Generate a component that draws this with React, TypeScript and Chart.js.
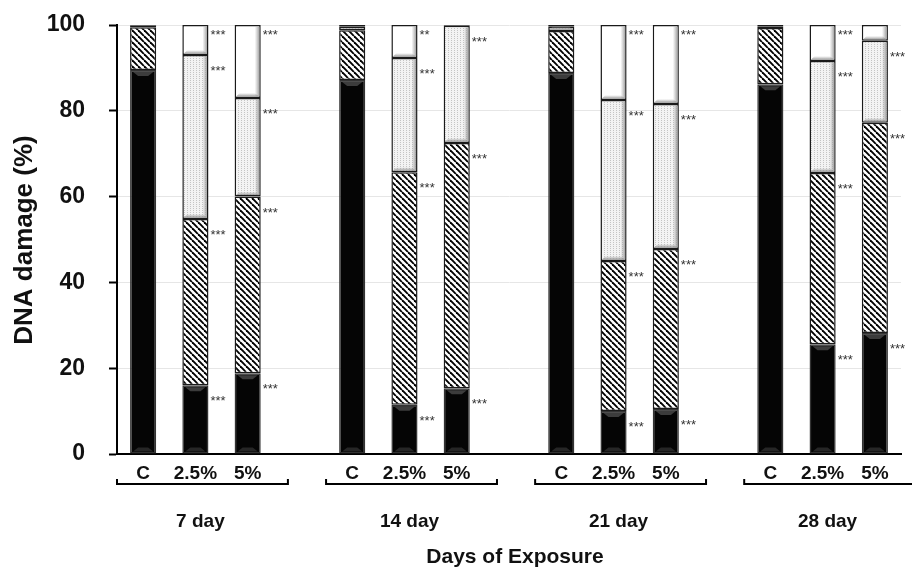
import React, { useEffect, useRef } from 'react';
import { Chart, registerables } from 'chart.js';

Chart.register(...registerables);

// ---- data ----
const categories = ['C', '2.5%', '5%', '', 'C', '2.5%', '5%', '', 'C', '2.5%', '5%', '', 'C', '2.5%', '5%'];
const groupLabels = ['7 day', '14 day', '21 day', '28 day'];
const groupStartIndex = [0, 4, 8, 12];
const xTitle = 'Days of Exposure';
const yTitle = 'DNA damage (%)';
const yMin = 0;
const yMax = 100;
const yStep = 20;

const blackSeries = [89.5, 16, 18.8, null, 87.2, 11.5, 15.3, null, 88.8, 10, 10.5, null, 86.2, 25.6, 28.2];
const hatchedSeries = [10, 38.8, 41.2, null, 11.6, 54.2, 57.2, null, 9.8, 35, 37.3, null, 13.1, 39.9, 49];
const dottedSeries = [0.3, 38.2, 23, null, 0.8, 26.6, 27.3, null, 1, 37.5, 33.8, null, 0.4, 26.1, 19.1];
const whiteSeries = [0.2, 7, 17, null, 0.4, 7.7, 0.2, null, 0.4, 17.5, 18.4, null, 0.3, 8.4, 3.7];

const blackStars = ['', '***', '***', '', '', '***', '***', '', '', '***', '***', '', '', '***', '***'];
const hatchedStars = ['', '***', '***', '', '', '***', '***', '', '', '***', '***', '', '', '***', '***'];
const dottedStars = ['', '***', '***', '', '', '***', '***', '', '', '***', '***', '', '', '***', '***'];
const whiteStars = ['', '***', '***', '', '', '**', '', '', '', '***', '***', '', '', '***', ''];

const FONT = "'Liberation Sans', Arial, Helvetica, sans-serif";

function makeHatch(): CanvasPattern | string {
  const c = document.createElement('canvas');
  const s = 6;
  c.width = s;
  c.height = s;
  const g = c.getContext('2d');
  if (!g) return '#888';
  g.fillStyle = '#ffffff';
  g.fillRect(0, 0, s, s);
  g.strokeStyle = '#000000';
  g.lineWidth = 1.9;
  for (let k = -1; k <= 1; k++) {
    g.beginPath();
    g.moveTo(k * s, 0);
    g.lineTo(k * s + s, s);
    g.stroke();
  }
  const p = g.createPattern(c, 'repeat');
  return p || '#888';
}

function makeDots(): CanvasPattern | string {
  const c = document.createElement('canvas');
  c.width = 3;
  c.height = 2;
  const g = c.getContext('2d');
  if (!g) return '#eee';
  g.fillStyle = '#f3f3f3';
  g.fillRect(0, 0, 3, 2);
  g.fillStyle = '#c4c4c4';
  g.fillRect(1, 0, 1, 1);
  const p = g.createPattern(c, 'repeat');
  return p || '#eee';
}

const starSets = [blackStars, hatchedStars, dottedStars, whiteStars];

const decorPlugin = {
  id: 'decor',
  afterDatasetsDraw(chart: any) {
    const ctx: CanvasRenderingContext2D = chart.ctx;
    // bevel effects
    chart.data.datasets.forEach((_ds: any, di: number) => {
      const meta = chart.getDatasetMeta(di);
      meta.data.forEach((el: any, j: number) => {
        const v = chart.data.datasets[di].data[j];
        if (v == null) return;
        const { x, y, base, width } = el.getProps(['x', 'y', 'base', 'width'], true);
        const l = x - width / 2;
        const r = x + width / 2;
        const h = base - y;
        if (h < 4) return;
        ctx.save();
        if (di === 0) {
          ctx.fillStyle = '#3c3c3c';
          ctx.beginPath();
          ctx.moveTo(l + 3, y + 2);
          ctx.lineTo(r - 3, y + 2);
          ctx.lineTo(r - 8, y + 6);
          ctx.lineTo(l + 8, y + 6);
          ctx.closePath();
          ctx.fill();
          ctx.fillStyle = '#262626';
          ctx.beginPath();
          ctx.moveTo(l + 8, base - 6);
          ctx.lineTo(r - 8, base - 6);
          ctx.lineTo(r - 3, base - 2);
          ctx.lineTo(l + 3, base - 2);
          ctx.closePath();
          ctx.fill();
        } else if (di === 2 || di === 3) {
          const gr = ctx.createLinearGradient(r - 6, 0, r - 1.5, 0);
          gr.addColorStop(0, 'rgba(160,160,160,0)');
          gr.addColorStop(1, 'rgba(150,150,150,0.85)');
          ctx.fillStyle = gr;
          ctx.fillRect(r - 6, y + 1.5, 4.5, h - 3);
          const gb = ctx.createLinearGradient(0, base - 5, 0, base - 1.5);
          gb.addColorStop(0, 'rgba(160,160,160,0)');
          gb.addColorStop(1, 'rgba(140,140,140,0.85)');
          ctx.fillStyle = gb;
          ctx.beginPath();
          ctx.moveTo(l + 1.5, base - 1.5);
          ctx.lineTo(r - 1.5, base - 1.5);
          ctx.lineTo(r - 6, base - 5);
          ctx.lineTo(l + 5, base - 5);
          ctx.closePath();
          ctx.fill();
        }
        ctx.restore();
      });
    });

    // significance stars
    ctx.save();
    ctx.fillStyle = '#333';
    ctx.font = `13px ${FONT}`;
    ctx.textAlign = 'left';
    ctx.textBaseline = 'alphabetic';
    starSets.forEach((set, di) => {
      const meta = chart.getDatasetMeta(di);
      set.forEach((s, j) => {
        if (!s) return;
        const el = meta.data[j];
        if (!el) return;
        const { x, y, width } = el.getProps(['x', 'y', 'width'], true);
        const off = di === 3 ? 6 : 12;
        ctx.fillText(s, x + width / 2 + 2, y + off + 8);
      });
    });
    ctx.restore();

    // brackets, group labels, titles
    const xs = chart.scales.x;
    const ca = chart.chartArea;
    const slot = xs.getPixelForValue(1) - xs.getPixelForValue(0);
    ctx.save();
    ctx.strokeStyle = '#000';
    ctx.lineWidth = 2;
    ctx.fillStyle = '#111';
    groupStartIndex.forEach((gi, k) => {
      const left = xs.getPixelForValue(gi) - 0.5 * slot;
      const right = left + 3.27 * slot;
      const by = ca.bottom + 30;
      ctx.beginPath();
      ctx.moveTo(left, by - 5);
      ctx.lineTo(left, by);
      ctx.lineTo(right, by);
      ctx.lineTo(right, by - 5);
      ctx.stroke();
      ctx.font = `bold 19px ${FONT}`;
      ctx.textAlign = 'center';
      ctx.textBaseline = 'middle';
      ctx.fillText(groupLabels[k], xs.getPixelForValue(gi + 1) + 5, ca.bottom + 68);
    });
    ctx.font = `bold 21px ${FONT}`;
    ctx.textAlign = 'center';
    ctx.textBaseline = 'middle';
    ctx.fillText(xTitle, (ca.left + ca.right) / 2 + 6, ca.bottom + 103);

    ctx.translate(25, 240);
    ctx.rotate(-Math.PI / 2);
    ctx.font = `bold 26px ${FONT}`;
    ctx.fillText(yTitle, 0, 0);
    ctx.restore();
  },
};

export default function App() {
  const ref = useRef<HTMLCanvasElement>(null);
  useEffect(() => {
    document.body.style.margin = '0';
    const canvas = ref.current;
    if (!canvas) return;
    const hatch = makeHatch();
    const dots = makeDots();
    const chart = new Chart(canvas, {
      type: 'bar',
      data: {
        labels: categories,
        datasets: [
          { label: 'black', data: blackSeries, backgroundColor: '#050505', borderColor: '#333', borderWidth: 1.5, borderSkipped: false },
          { label: 'hatched', data: hatchedSeries, backgroundColor: hatch, borderColor: '#1a1a1a', borderWidth: 1.5, borderSkipped: false },
          { label: 'dotted', data: dottedSeries, backgroundColor: dots, borderColor: '#1a1a1a', borderWidth: 1.5, borderSkipped: false },
          { label: 'white', data: whiteSeries, backgroundColor: '#ffffff', borderColor: '#1a1a1a', borderWidth: 1.5, borderSkipped: false },
        ] as any,
      },
      options: {
        responsive: false,
        animation: false,
        layout: { padding: { top: 25, right: 11, left: 0, bottom: 0 } },
        datasets: { bar: { barPercentage: 1, categoryPercentage: 0.5 } } as any,
        plugins: { legend: { display: false }, tooltip: { enabled: false } },
        scales: {
          x: {
            stacked: true,
            grid: { display: false },
            border: { display: true, color: '#000', width: 2 },
            ticks: { autoSkip: false, maxRotation: 0, minRotation: 0, padding: 0, color: '#111', font: { family: FONT, size: 19, weight: 'bold' } },
            afterFit: (s: any) => { s.height = 114; s.paddingLeft = 0; s.paddingRight = 0; },
          },
          y: {
            stacked: true,
            min: yMin,
            max: yMax,
            ticks: { stepSize: yStep, padding: 24, color: '#111', font: { family: FONT, size: 23, weight: 'bold' } },
            grid: { color: '#e6e6e6', lineWidth: 1, tickColor: '#000', tickLength: 8, tickWidth: 2 },
            border: { display: true, color: '#000', width: 2 },
            afterFit: (s: any) => { s.width = 117; s.paddingTop = 0; s.paddingBottom = 0; },
          },
        },
      } as any,
      plugins: [decorPlugin],
    });
    return () => chart.destroy();
  }, []);
  return (
    <div style={{ width: 912, height: 568, background: '#fff' }}>
      <canvas ref={ref} width={912} height={568} style={{ display: 'block' }} />
    </div>
  );
}
